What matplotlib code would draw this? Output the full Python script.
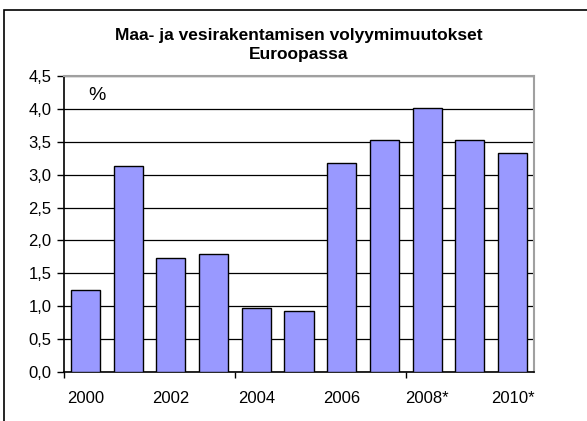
import matplotlib.pyplot as plt
from matplotlib.patches import Rectangle
from matplotlib.ticker import FuncFormatter, MultipleLocator

plt.rcParams['font.family'] = ['Liberation Sans', 'DejaVu Sans']

years = ['2000', '2001', '2002', '2003', '2004', '2005',
         '2006', '2007', '2008*', '2009', '2010*']
values = [1.25, 3.13, 1.73, 1.79, 0.98, 0.93, 3.17, 3.52, 4.01, 3.52, 3.33]
title = 'Maa- ja vesirakentamisen volyymimuutokset\nEuroopassa'

W, H = 587, 421
fig = plt.figure(figsize=(W / 100, H / 100), dpi=100)
ax = fig.add_axes([64 / W, 1 - 372 / H, (534 - 64) / W, (372 - 76) / H])

x = list(range(len(years)))
ax.bar(x, values, width=0.68, color='#9999FF', edgecolor='black',
       linewidth=1.0, zorder=3)

ax.set_xlim(-0.5, len(years) - 0.5)
ax.set_ylim(0, 4.5)
ax.yaxis.set_major_locator(MultipleLocator(0.5))
ax.yaxis.set_major_formatter(FuncFormatter(lambda v, p: f'{v:.1f}'.replace('.', ',')))
ax.grid(axis='y', color='black', linewidth=0.9, zorder=1)

# labels every other year, tick marks every four categories
ax.set_xticks(x[::2])
ax.set_xticklabels(years[::2])
ax.set_xticks([-0.5, 3.5, 7.5], minor=True)
ax.tick_params(axis='x', which='major', length=0, pad=14, labelsize=12)
ax.tick_params(axis='x', which='minor', length=4.5, width=1, direction='out')
ax.tick_params(axis='y', length=5, width=1, direction='out', labelsize=12, pad=4)

for s in ['top', 'right']:
    ax.spines[s].set_color('#a0a0a0')
    ax.spines[s].set_linewidth(1.5)
for s in ['left', 'bottom']:
    ax.spines[s].set_color('black')
    ax.spines[s].set_linewidth(1.2)

ax.text(0.27, 4.2, '%', fontsize=14, ha='center', va='center')

fig.text(299 / W, 1 - 45 / H, title, ha='center', va='center',
         fontsize=12.5, fontweight='bold', linespacing=1.3)

# chart frame
fig.patches.append(Rectangle((4 / W, -0.1), 1.2, 1 - 10 / H + 0.1,
                             transform=fig.transFigure, fill=False,
                             edgecolor='black', linewidth=1.2))

fig.savefig('out.png', dpi=100)
